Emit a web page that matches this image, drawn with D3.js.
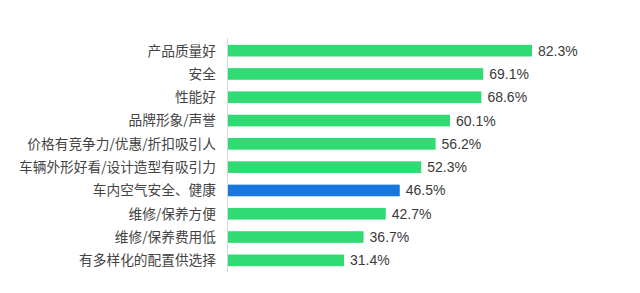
<!DOCTYPE html>
<html><head><meta charset="utf-8">
<script src="https://cdn.jsdelivr.net/npm/d3@7"></script>
<style>html,body{margin:0;padding:0;background:#fff;}</style>
</head><body>
<svg id="chart" width="640" height="293"></svg>
<script>
const categories = ["产品质量好","安全","性能好","品牌形象/声誉","价格有竞争力/优惠/折扣吸引人","车辆外形好看/设计造型有吸引力","车内空气安全、健康","维修/保养方便","维修/保养费用低","有多样化的配置供选择"];
const values = [82.3,69.1,68.6,60.1,56.2,52.3,46.5,42.7,36.7,31.4];
const highlight = ["车内空气安全、健康"];

const svg = d3.select("#chart");
const x0 = 228;
const x = d3.scaleLinear().domain([0, 82.3]).range([x0, 532]);
const y = d3.scaleBand().domain(categories).range([39, 272]).paddingInner(0.5).paddingOuter(0.25);

svg.append("line").attr("x1", x0-0.5).attr("x2", x0-0.5).attr("y1", 38).attr("y2", 272)
  .attr("stroke", "#d8d8d8").attr("stroke-width", 1);

svg.selectAll("rect.bar").data(categories).join("rect").attr("class","bar")
  .attr("x", x(0)).attr("y", d => y(d))
  .attr("width", (d,i) => x(values[i]) - x(0)).attr("height", y.bandwidth())
  .attr("fill", d => highlight.includes(d) ? "#1677e0" : "#31db74");

svg.selectAll("text.val").data(categories).join("text").attr("class","val")
  .attr("x", (d,i) => x(values[i]) + 6).attr("y", d => y(d) + y.bandwidth()/2)
  .attr("dy", "0.36em")
  .attr("font-family", "Liberation Sans, Arial, sans-serif").attr("font-size", 14)
  .attr("fill", "#3a3a3a")
  .text((d,i) => values[i].toFixed(1) + "%");

svg.selectAll("text.cat").data(categories).join("text").attr("class","cat")
  .attr("x", 216).attr("y", d => y(d) + y.bandwidth()/2)
  .attr("dy", "0.36em").attr("text-anchor", "end")
  .attr("font-family", "Noto Sans CJK SC, sans-serif").attr("font-size", 13.7)
  .attr("fill", "#444444")
  .text(d => d);
</script>
</body></html>
